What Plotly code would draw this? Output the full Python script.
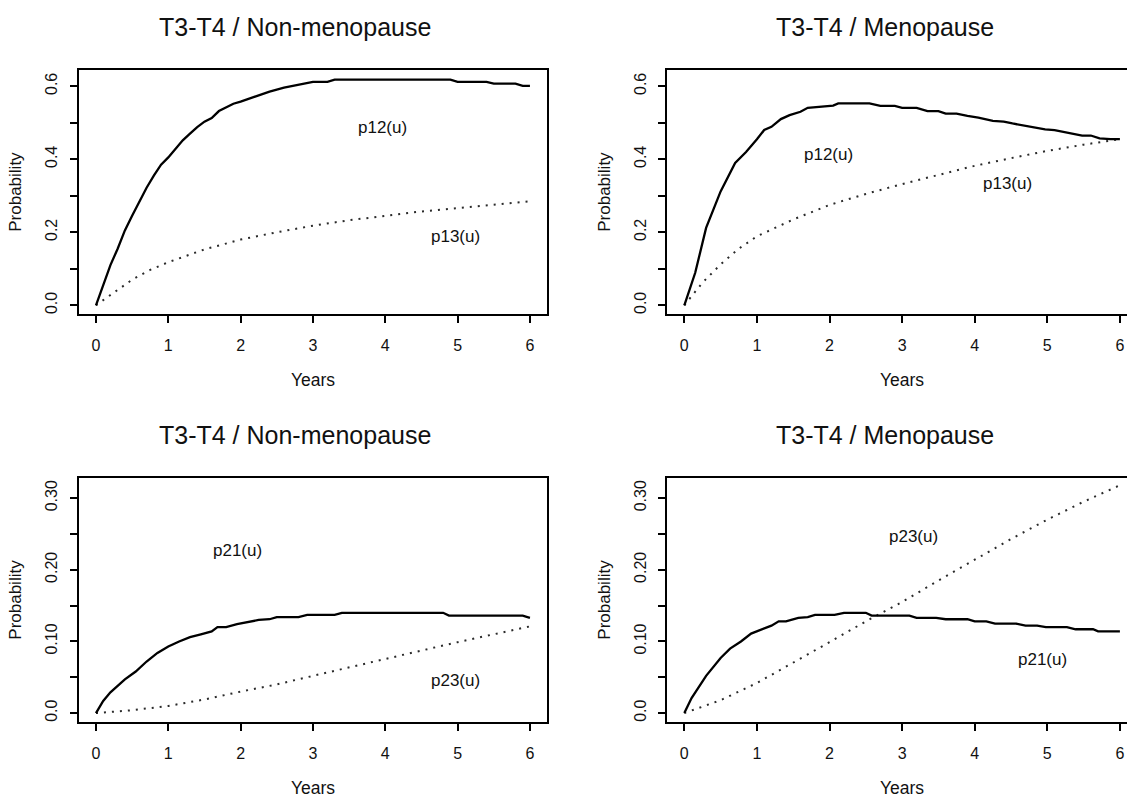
import plotly.graph_objects as go

# ---------------- data ----------------
titles = ["T3-T4 / Non-menopause", "T3-T4 / Menopause",
          "T3-T4 / Non-menopause", "T3-T4 / Menopause"]

# Top-left (Non-menopause)
tl_p12_x = [0, 0.11, 0.2, 0.3, 0.4, 0.5, 0.6, 0.7, 0.8, 0.9, 1.0, 1.1, 1.2, 1.3, 1.4, 1.5, 1.6, 1.7, 1.8,
            1.9, 2.0, 2.2, 2.4, 2.6, 2.8, 3.0, 3.2, 3.3, 4.9, 5.0, 5.4, 5.5, 5.8, 5.9, 6.0]
tl_p12_y = [0, 0.062, 0.11, 0.155, 0.205, 0.245, 0.285, 0.322, 0.355, 0.385, 0.405, 0.43, 0.452, 0.47,
            0.488, 0.503, 0.513, 0.532, 0.543, 0.552, 0.558, 0.572, 0.585, 0.596, 0.603, 0.612, 0.612,
            0.618, 0.618, 0.612, 0.612, 0.607, 0.607, 0.601, 0.601]
tl_p13_x = [0, 0.25, 0.5, 0.75, 1.0, 1.5, 2.0, 2.5, 3.0, 3.5, 4.0, 4.5, 5.0, 5.5, 6.0]
tl_p13_y = [0, 0.035, 0.07, 0.097, 0.118, 0.153, 0.18, 0.2, 0.218, 0.233, 0.246, 0.257, 0.266, 0.276, 0.285]

# Top-right (Menopause)
tr_p12_x = [0, 0.15, 0.3, 0.5, 0.7, 0.85, 1.0, 1.1, 1.2, 1.33, 1.45, 1.6, 1.7, 1.9, 2.05, 2.12, 2.55, 2.7,
            2.9, 3.0, 3.2, 3.35, 3.5, 3.6, 3.75, 3.9, 4.05, 4.25, 4.4, 4.52, 4.67, 4.8, 4.97, 5.1, 5.3,
            5.48, 5.6, 5.72, 5.87, 6.0]
tr_p12_y = [0, 0.089, 0.212, 0.312, 0.39, 0.42, 0.455, 0.48, 0.489, 0.51, 0.521, 0.53, 0.541, 0.545, 0.547,
            0.553, 0.553, 0.546, 0.546, 0.541, 0.541, 0.532, 0.532, 0.525, 0.525, 0.519, 0.514, 0.505,
            0.503, 0.498, 0.493, 0.489, 0.482, 0.48, 0.473, 0.465, 0.465, 0.457, 0.455, 0.455]
tr_p13_x = [0, 0.25, 0.5, 0.75, 1.0, 1.5, 2.0, 2.5, 3.0, 3.5, 4.0, 4.5, 5.0, 5.5, 6.0]
tr_p13_y = [0, 0.062, 0.112, 0.155, 0.189, 0.235, 0.275, 0.305, 0.332, 0.358, 0.382, 0.403, 0.423, 0.44, 0.455]

# Bottom-left (Non-menopause)
bl_p21_x = [0, 0.1, 0.2, 0.4, 0.55, 0.7, 0.85, 1.0, 1.15, 1.3, 1.45, 1.6, 1.68, 1.8, 1.95, 2.1, 2.25, 2.4,
            2.5, 2.8, 2.92, 3.3, 3.4, 4.8, 4.88, 5.9, 6.0]
bl_p21_y = [0, 0.017, 0.029, 0.047, 0.058, 0.072, 0.084, 0.093, 0.1, 0.106, 0.11, 0.114, 0.12, 0.12, 0.124,
            0.127, 0.13, 0.131, 0.134, 0.134, 0.137, 0.137, 0.14, 0.14, 0.136, 0.136, 0.133]
bl_p23_x = [0, 0.5, 1.0, 1.5, 2.0, 2.5, 3.0, 3.5, 4.0, 4.5, 5.0, 5.5, 6.0]
bl_p23_y = [0, 0.004, 0.01, 0.019, 0.03, 0.04, 0.052, 0.064, 0.075, 0.087, 0.099, 0.11, 0.121]

# Bottom-right (Menopause)
br_p21_x = [0, 0.1, 0.3, 0.5, 0.63, 0.78, 0.92, 1.07, 1.2, 1.3, 1.4, 1.57, 1.7, 1.8, 2.07, 2.2, 2.5, 2.58,
            3.1, 3.2, 3.47, 3.6, 3.9, 4.0, 4.16, 4.28, 4.57, 4.7, 4.86, 4.98, 5.27, 5.39, 5.63, 5.7, 6.0]
br_p21_y = [0, 0.021, 0.052, 0.077, 0.09, 0.1, 0.111, 0.117, 0.122, 0.128, 0.128, 0.133, 0.134, 0.137,
            0.137, 0.14, 0.14, 0.136, 0.136, 0.133, 0.133, 0.131, 0.131, 0.128, 0.128, 0.125, 0.125, 0.122,
            0.122, 0.12, 0.12, 0.117, 0.117, 0.114, 0.114]
br_p23_x = [0, 0.5, 1.0, 1.5, 2.0, 2.5, 3.0, 3.5, 4.0, 4.5, 5.0, 5.5, 6.0]
br_p23_y = [0, 0.018, 0.042, 0.07, 0.099, 0.128, 0.155, 0.185, 0.214, 0.243, 0.27, 0.295, 0.318]

x_ticks = [0, 1, 2, 3, 4, 5, 6]
top_y_ticks = [0, 0.1, 0.2, 0.3, 0.4, 0.5, 0.6]
top_y_text = ["0.0", "", "0.2", "", "0.4", "", "0.6"]
bot_y_ticks = [0, 0.05, 0.10, 0.15, 0.20, 0.25, 0.30]
bot_y_text = ["0.0", "", "0.10", "", "0.20", "", "0.30"]

# label text + positions (data coords)
labels = [
    [("p12(u)", 3.96, 0.487), ("p13(u)", 4.97, 0.189)],
    [("p12(u)", 1.98, 0.412), ("p13(u)", 4.45, 0.333)],
    [("p21(u)", 1.96, 0.227), ("p23(u)", 4.97, 0.045)],
    [("p23(u)", 3.15, 0.246), ("p21(u)", 4.94, 0.075)],
]

# ---------------- layout geometry (window pixels) ----------------
W, H = 1127, 800
FONT = "Liberation Sans, Arial, sans-serif"
TXT = "#111111"

def px(x):
    return x / W

def py(y):
    return 1 - y / H

left_dom = [px(78.6), px(547.3)]
right_dom = [px(666.9), 1.0]
top_dom = [py(313.5), py(70)]
bot_dom = [py(721.7), py(477.7)]

xr_left = [-0.24, 6.24]
xr_right = [-0.24, (W - 684.3) / 72.6]
yr_top = [-0.0225, 0.6445]
yr_bot = [-0.012, 0.3285]

fig = go.Figure()

panels = [
    (tl_p12_x, tl_p12_y, tl_p13_x, tl_p13_y),
    (tr_p12_x, tr_p12_y, tr_p13_x, tr_p13_y),
    (bl_p21_x, bl_p21_y, bl_p23_x, bl_p23_y),
    (br_p21_x, br_p21_y, br_p23_x, br_p23_y),
]

for i, (sx, sy, dx, dy) in enumerate(panels):
    xa = "x" if i == 0 else f"x{i+1}"
    ya = "y" if i == 0 else f"y{i+1}"
    fig.add_trace(go.Scatter(x=dx, y=dy, xaxis=xa, yaxis=ya, mode="lines",
                             line=dict(color="#2a2a2a", width=2, dash="2px,6px"),
                             showlegend=False, hoverinfo="skip"))
    fig.add_trace(go.Scatter(x=sx, y=sy, xaxis=xa, yaxis=ya, mode="lines",
                             line=dict(color="#000000", width=2.3),
                             showlegend=False, hoverinfo="skip"))

def xaxis_cfg(dom, rng, anchor, mirror):
    return dict(domain=dom, range=rng, anchor=anchor, showgrid=False, zeroline=False,
                showline=True, linecolor="black", linewidth=2, mirror=mirror,
                ticks="outside", ticklen=7, tickwidth=2, tickcolor="black",
                tickvals=x_ticks, ticktext=[str(v) for v in x_ticks],
                tickfont=dict(family=FONT, size=16, color=TXT), ticklabelstandoff=9)

def yaxis_cfg(dom, rng, anchor, vals, text, mirror):
    return dict(domain=dom, range=rng, anchor=anchor, showgrid=False, zeroline=False,
                showline=True, linecolor="black", linewidth=2, mirror=mirror,
                ticks="outside", ticklen=7, tickwidth=2, tickcolor="black",
                tickvals=vals, ticktext=text, tickangle=-90,
                tickfont=dict(family=FONT, size=16, color=TXT), ticklabelstandoff=6)

fig.update_layout(
    width=W, height=H, margin=dict(l=0, r=0, t=0, b=0),
    paper_bgcolor="white", plot_bgcolor="white",
    xaxis=xaxis_cfg(left_dom, xr_left, "y", True),
    yaxis=yaxis_cfg(top_dom, yr_top, "x", top_y_ticks, top_y_text, True),
    xaxis2=xaxis_cfg(right_dom, xr_right, "y2", True),
    yaxis2=yaxis_cfg(top_dom, yr_top, "x2", top_y_ticks, top_y_text, False),
    xaxis3=xaxis_cfg(left_dom, xr_left, "y3", True),
    yaxis3=yaxis_cfg(bot_dom, yr_bot, "x3", bot_y_ticks, bot_y_text, True),
    xaxis4=xaxis_cfg(right_dom, xr_right, "y4", True),
    yaxis4=yaxis_cfg(bot_dom, yr_bot, "x4", bot_y_ticks, bot_y_text, False),
)

annots = []
# panel curve labels
for i, labs in enumerate(labels):
    xa = "x" if i == 0 else f"x{i+1}"
    ya = "y" if i == 0 else f"y{i+1}"
    for t, lx, ly in labs:
        annots.append(dict(text=t, x=lx, y=ly, xref=xa, yref=ya, showarrow=False,
                           font=dict(family=FONT, size=17, color=TXT)))

# titles
title_pos = [(295, 27), (885, 27), (295, 435), (885, 435)]
for t, (tx, ty) in zip(titles, title_pos):
    annots.append(dict(text=t, x=px(tx), y=py(ty), xref="paper", yref="paper", showarrow=False,
                       xanchor="center", yanchor="middle",
                       font=dict(family=FONT, size=25, color=TXT)))

# axis titles
for cx in (313, 902):
    for cy in (380, 788):
        annots.append(dict(text="Years", x=px(cx), y=py(cy), xref="paper", yref="paper",
                           showarrow=False, xanchor="center", yanchor="middle",
                           font=dict(family=FONT, size=17.5, color=TXT)))
for cx in (16, 605):
    for cy in (191.75, 599.7):
        annots.append(dict(text="Probability", x=px(cx), y=py(cy), xref="paper", yref="paper",
                           showarrow=False, xanchor="center", yanchor="middle", textangle=-90,
                           font=dict(family=FONT, size=17, color=TXT)))

fig.update_layout(annotations=annots)

# remove the default page margin so the figure fills the 1127x800 window exactly
fig.write_html("out.html",
               config={"displayModeBar": False, "staticPlot": True},
               post_script="document.body.style.margin='0px';"
                           "document.documentElement.style.overflow='hidden';"
                           "document.body.style.overflow='hidden';")
